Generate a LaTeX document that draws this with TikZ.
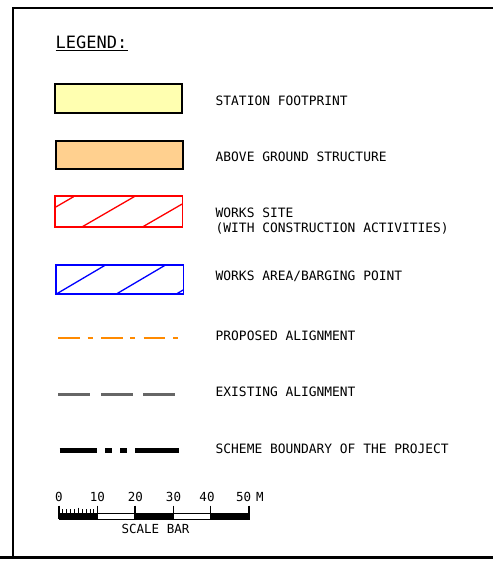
\documentclass[tikz,border=0pt]{standalone}
\usepackage{fontspec}
\newfontfamily\cad{DejaVu Sans Mono}
\definecolor{sfyellow}{HTML}{FFFFB0}
\definecolor{agorange}{HTML}{FFD08F}
\definecolor{propor}{HTML}{FF8A00}
\definecolor{exgrey}{HTML}{666666}
\tikzset{
  frameline/.style={line width=2pt, black},
  legbox/.style={draw, line width=1.6pt, minimum width=127pt, minimum height=28.5pt, inner sep=0pt},
  hatch/.style={line width=1.3pt},
  lbl/.style={anchor=base west, inner sep=0pt, font=\cad\fontsize{12.9}{14}\selectfont},
  num/.style={anchor=base, inner sep=0pt, font=\cad\fontsize{12.5}{14}\selectfont},
  majtick/.style={line width=1.2pt},
  mintick/.style={line width=0.8pt}
}
\begin{document}
\begin{tikzpicture}[x=1pt,y=-1pt]
\useasboundingbox (0,0) rectangle (493,563);
% frame
\coordinate (ftl) at (12.5,7.5);
\coordinate (ftr) at (493,7.5);
\coordinate (fbl) at (12.5,557.5);
\coordinate (fbl0) at (0,557.5);
\coordinate (fbr) at (493,557.5);
\draw[frameline] (ftr) -- (ftl) -- (fbl);
\draw[line width=2.6pt] (fbl0) -- (fbr);
% title
\node[anchor=base west, inner sep=0pt, font=\cad\fontsize{17}{19}\selectfont] (title) at (55.5,48) {LEGEND:};
\draw[line width=1.3pt] ([yshift=-2.8pt]title.base west) -- ([yshift=-2.8pt]title.base east);
% station footprint
\node[legbox, fill=sfyellow] (sf) at (118.5,98.5) {};
\node[lbl] (sft) at (215.5,105) {STATION FOOTPRINT};
% above ground structure
\node[legbox, fill=agorange] (ag) at (119.5,155) {};
\node[lbl] (agt) at (215.5,161.5) {ABOVE GROUND STRUCTURE};
% works site
\node[legbox, draw=none, minimum height=29.3pt, minimum width=126pt] (ws) at (118.7,211.4) {};
\begin{scope}
\clip (ws.south west) rectangle (ws.north east);
\foreach \b in {22.1,82.7,143.3}
  \draw[hatch, red] (\b,226.5) -- ++(51.5,-29.8);
\end{scope}
\draw[red, line width=1.6pt] (ws.south west) rectangle (ws.north east);
\node[lbl] (wst1) at (215.5,217) {WORKS SITE};
\node[lbl] (wst2) at (215.5,232.5) {(WITH CONSTRUCTION ACTIVITIES)};
% works area
\node[legbox, draw=none, minimum height=27.6pt, minimum width=126pt] (wa) at (119.7,279.5) {};
\begin{scope}
\clip (wa.south west) rectangle (wa.north east);
\foreach \b in {56.7,116.7,176.7}
  \draw[hatch, blue] (\b,293.8) -- ++(48.5,-28.6);
\end{scope}
\draw[blue, line width=1.6pt] (wa.south west) rectangle (wa.north east);
\node[lbl] (wat) at (215.5,280.5) {WORKS AREA/BARGING POINT};
% proposed alignment
\coordinate (pa1) at (58.3,337.7);
\coordinate (pa2) at (177.7,337.7);
\draw[propor, line width=2.4pt, dash pattern=on 21.7pt off 7.7pt on 5pt off 8.3pt] (pa1) -- (pa2);
\node[lbl] (pat) at (215.5,340.8) {PROPOSED ALIGNMENT};
% existing alignment
\coordinate (ea1) at (58.3,394.3);
\coordinate (ea2) at (175,394.3);
\draw[exgrey, line width=3pt, dash pattern=on 32pt off 10.5pt] (ea1) -- (ea2);
\node[lbl] (eat) at (215.5,396.8) {EXISTING ALIGNMENT};
% scheme boundary
\coordinate (sb1) at (59.7,450.7);
\coordinate (sb2) at (179,450.7);
\draw[black, line width=5.5pt, dash pattern=on 37.6pt off 7.8pt on 7.2pt off 7.8pt on 7.2pt off 7.8pt on 60pt off 10pt] (sb1) -- (sb2);
\node[lbl] (sbt) at (215.5,453.4) {SCHEME BOUNDARY OF THE PROJECT};
% scale bar
\foreach \xa/\xb/\f in {59/97.7/black,97.7/135/white,135/173.3/black,173.3/210.7/white,210.7/249/black}
  \draw[line width=0.8pt, fill=\f] (\xa,513) rectangle (\xb,519);
\foreach \x in {59,97.7,135,173.3,210.7,249}
  \draw[majtick] (\x,505.5) -- (\x,519.4);
\foreach \i in {1,...,9}{
  \pgfmathsetmacro{\tx}{59+\i*3.87}
  \pgfmathsetmacro{\ty}{ifthenelse(\i==5,507.5,509.3)}
  \draw[mintick] (\tx,\ty) -- (\tx,513);
}
\node[num] (n0) at (59,501.7) {0};
\node[num] (n10) at (97.5,501.7) {10};
\node[num] (n20) at (135.3,501.7) {20};
\node[num] (n30) at (173.5,501.7) {30};
\node[num] (n40) at (207,501.7) {40};
\node[num, anchor=base west] (n50) at (236,501.7) {50\hspace{0.4em}M};
\node[num] (sbar) at (155.5,533.3) {SCALE BAR};
\end{tikzpicture}
\end{document}
